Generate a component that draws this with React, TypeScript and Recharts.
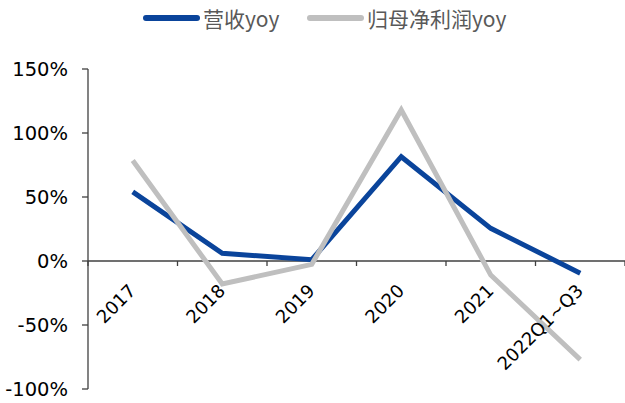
import React from 'react';
import { LineChart, Line, XAxis, YAxis, ReferenceLine } from 'recharts';

const categories = ['2017', '2018', '2019', '2020', '2021', '2022Q1~Q3'];
const revenueYoy = [54, 6, 1, 81.5, 25.5, -9.5];
const profitYoy = [78.5, -18, -2.6, 118, -11, -77];
const yTicks = [-100, -50, 0, 50, 100, 150];
const seriesNames = ['营收yoy', '归母净利润yoy'];

const W = 625;
const H = 403;
const M = { top: 69, right: 0, bottom: 0, left: 0 };
const Y_AXIS_W = 88;
const X_AXIS_H = 14;
const Y_MIN = -100;
const Y_MAX = 150;
const PLOT_TOP = M.top;
const PLOT_H = H - M.top - M.bottom - X_AXIS_H;
const PLOT_W = W - M.left - M.right - Y_AXIS_W;
const BAND = PLOT_W / categories.length;
const ZERO_Y = PLOT_TOP + (PLOT_H * (Y_MAX - 0)) / (Y_MAX - Y_MIN);

const BLUE = '#0A449B';
const GREY = '#BFBFBF';
const FONT = '"DejaVu Sans", Verdana, sans-serif';

const data = categories.map((c, i) => ({ name: c, rev: revenueYoy[i], profit: profitYoy[i] }));

const XTick = (props: any) => {
  const { x, payload, index } = props;
  return (
    <g>
      <line x1={x + BAND / 2} x2={x + BAND / 2} y1={ZERO_Y} y2={ZERO_Y + 5} stroke="#404040" strokeWidth={1.3} />
      {index === 0 && (
        <line x1={x - BAND / 2} x2={x - BAND / 2} y1={ZERO_Y} y2={ZERO_Y + 5} stroke="#404040" strokeWidth={1.3} />
      )}
      <text
        x={0}
        y={0}
        transform={`translate(${x + 4}, ${ZERO_Y + 31}) rotate(-45)`}
        textAnchor="end"
        fontSize={18}
        fontFamily={FONT}
        fill="#000"
      >
        {payload.value}
      </text>
    </g>
  );
};

const LegendItem = ({ color, label, left }: { color: string; label: string; left: number }) => (
  <div style={{ position: 'absolute', left, top: 6, display: 'flex', alignItems: 'center', height: 24 }}>
    <div style={{ width: 57, height: 6, borderRadius: 3, background: color }} />
    <span
      style={{
        marginLeft: 3,
        fontSize: 21,
        color: '#595959',
        fontFamily: '"Noto Sans CJK SC", "DejaVu Sans", sans-serif',
        lineHeight: '24px',
        whiteSpace: 'nowrap',
      }}
    >
      {label}
    </span>
  </div>
);

export default function App() {
  return (
    <div style={{ position: 'absolute', left: 0, top: 0, width: W, height: H, background: '#fff' }}>
      <LineChart width={W} height={H} data={data} margin={M}>
        <XAxis
          dataKey="name"
          height={X_AXIS_H}
          axisLine={false}
          tickLine={false}
          interval={0}
          padding={{ left: BAND / 2, right: BAND / 2 }}
          tick={<XTick />}
        />
        <YAxis
          width={Y_AXIS_W}
          domain={[Y_MIN, Y_MAX]}
          ticks={yTicks}
          tickFormatter={(v: number) => `${v}%`}
          tick={{ fontSize: 19.5, fill: '#000', fontFamily: FONT }}
          tickSize={6}
          tickMargin={14}
          axisLine={{ stroke: '#404040', strokeWidth: 1.3 }}
          tickLine={{ stroke: '#404040', strokeWidth: 1.3 }}
          interval={0}
        />
        <ReferenceLine y={0} stroke="#404040" strokeWidth={1.3} />
        <Line type="linear" dataKey="rev" stroke={BLUE} strokeWidth={5} dot={false} isAnimationActive={false} />
        <Line type="linear" dataKey="profit" stroke={GREY} strokeWidth={5} dot={false} isAnimationActive={false} />
      </LineChart>
      <LegendItem color={BLUE} label={seriesNames[0]} left={143} />
      <LegendItem color={GREY} label={seriesNames[1]} left={307} />
    </div>
  );
}
